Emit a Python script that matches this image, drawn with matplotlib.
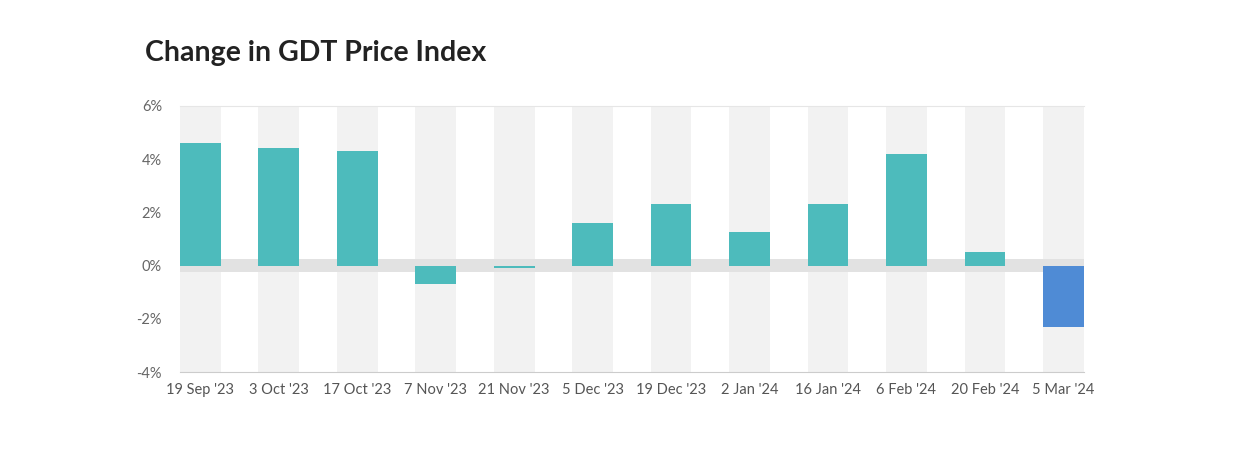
import matplotlib
matplotlib.use("Agg")
import matplotlib.pyplot as plt
from matplotlib.ticker import FixedLocator

dates = ["19 Sep '23", "3 Oct '23", "17 Oct '23", "7 Nov '23", "21 Nov '23", "5 Dec '23",
         "19 Dec '23", "2 Jan '24", "16 Jan '24", "6 Feb '24", "20 Feb '24", "5 Mar '24"]
changes = [4.6, 4.4, 4.3, -0.7, -0.1, 1.6, 2.3, 1.25, 2.3, 4.2, 0.5, -2.3]
y_ticks = [-4, -2, 0, 2, 4, 6]
y_tick_labels = ["-4%", "-2%", "0%", "2%", "4%", "6%"]

teal = "#4dbbbc"
blue = "#4f8bd5"
colors = [teal] * (len(changes) - 1) + [blue]

plt.rcParams['font.family'] = ['Lato', 'DejaVu Sans']
fig = plt.figure(figsize=(12.5, 4.5), dpi=100)
ax = fig.add_axes([0.144, 0.1727, 0.723, 0.5924])

x = list(range(len(dates)))
bw = 0.52
# background bands
for xi in x:
    ax.axvspan(xi - bw / 2, xi + bw / 2, color="#f2f2f2", zorder=0, lw=0)
# zero band
ax.axhspan(-0.22, 0.24, color="#e2e2e2", zorder=1, lw=0)
ax.bar(x, changes, width=bw, color=colors, zorder=3, linewidth=0)

ax.set_xlim(-bw / 2, len(dates) - 1 + bw / 2)
ax.set_ylim(-4, 6)
ax.yaxis.set_major_locator(FixedLocator(y_ticks))
ax.set_yticklabels(y_tick_labels)
ax.set_xticks(x)
ax.set_xticklabels(dates)
ax.tick_params(axis='y', length=0, pad=13, labelsize=10.5, labelcolor="#666666")
ax.tick_params(axis='x', length=0, pad=7.5, labelsize=10.5, labelcolor="#555555")
for s in ["left", "right"]:
    ax.spines[s].set_visible(False)
ax.spines["top"].set_color("#e6e6e6")
ax.spines["bottom"].set_color("#cccccc")

fig.text(145 / 1250, 1 - 53 / 450, "Change in GDT Price Index", fontsize=20.5,
         fontweight="bold", color="#222222", ha="left", va="center")

fig.savefig("out.png", dpi=100, facecolor="white")
